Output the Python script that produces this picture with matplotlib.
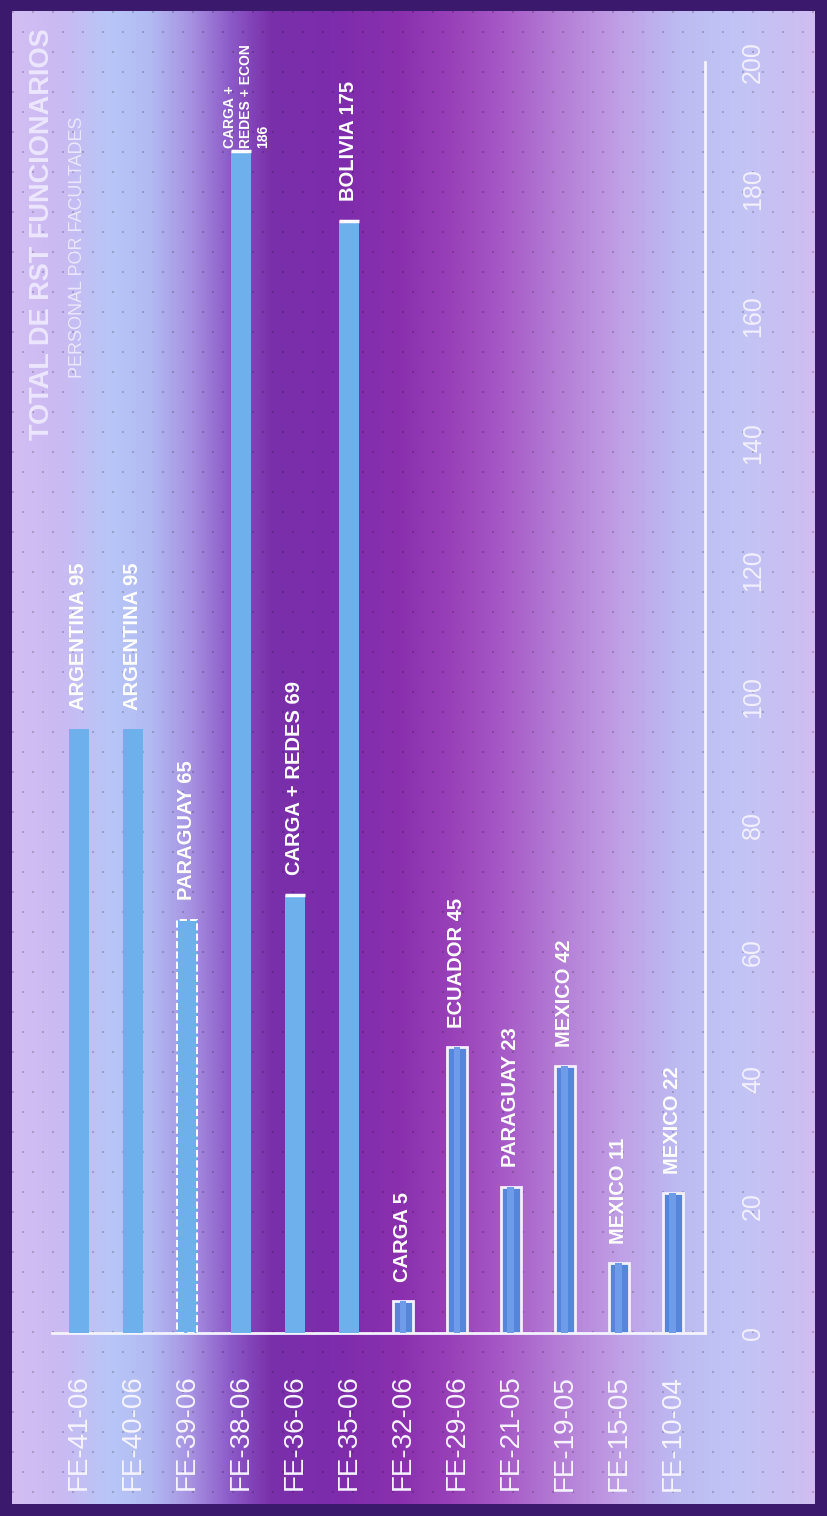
import numpy as np
import matplotlib
matplotlib.use("Agg")
import matplotlib.pyplot as plt
from matplotlib import font_manager

# ---------------- data ----------------
categories = ["FE-41-06", "FE-40-06", "FE-39-06", "FE-38-06", "FE-36-06", "FE-35-06",
              "FE-32-06", "FE-29-06", "FE-21-05", "FE-19-05", "FE-15-05", "FE-10-04"]
values = [95, 95, 65, 186, 69, 175, 5, 45, 23, 42, 11, 22]
bar_labels = ["ARGENTINA 95", "ARGENTINA 95", "PARAGUAY 65", "CARGA +\nREDES + ECON\n186",
              "CARGA + REDES 69", "BOLIVIA 175", "CARGA 5", "ECUADOR 45",
              "PARAGUAY 23", "MEXICO 42", "MEXICO 11", "MEXICO 22"]
value_ticks = [0, 20, 40, 60, 80, 100, 120, 140, 160, 180, 200]
title_text = "TOTAL DE RST FUNCIONARIOS"
subtitle_text = "PERSONAL POR FACULTADES"

# ---------------- fonts ----------------
names = {f.name for f in font_manager.fontManager.ttflist}
sans = "Liberation Sans" if "Liberation Sans" in names else "DejaVu Sans"

W, H = 827, 1516
fig = plt.figure(figsize=(W / 100, H / 100), dpi=100)
fig.patch.set_facecolor("#3b1a6e")

# ---------------- background gradient ----------------
bx0, bx1, by0, by1 = 12, 815, 11, 1504
bg = fig.add_axes([bx0 / W, 1 - by1 / H, (bx1 - bx0) / W, (by1 - by0) / H])
bg.set_axis_off()
stops_x = [12, 60, 110, 150, 190, 230, 270, 330, 400, 450, 500, 560, 620, 680, 740, 800, 815]
stops_c = ["#d2bef2", "#cabaf2", "#b8c6f7", "#b2baf2", "#a792e2", "#8c5ac8", "#7a30aa",
           "#7c2cac", "#8a30ae", "#9840b8", "#a658c6", "#b47ed6", "#c0a0e6", "#bcbcf2",
           "#c2c4f6", "#ccbef0", "#d2bcf0"]
rgb = np.array([matplotlib.colors.to_rgb(c) for c in stops_c])
xs = np.arange(bx0, bx1)
cols = np.stack([np.interp(xs, stops_x, rgb[:, k]) for k in range(3)], axis=1)
img = np.repeat(cols[None, :, :], by1 - by0, axis=0)
# subtle halftone dots
yy, xx = np.mgrid[0:by1 - by0, 0:bx1 - bx0]
dots = ((yy % 20) < 2) & (((xx + (yy // 20 % 2) * 10) % 20) < 2)
img[dots] = img[dots] * 0.82
bg.imshow(img, aspect="auto", extent=[0, 1, 0, 1], interpolation="bilinear")
bg.set_xlim(0, 1)
bg.set_ylim(0, 1)

# ---------------- main axes ----------------
ax_left, ax_right = 52, 705
ax_top, ax_bottom = 62, 1333
ax = fig.add_axes([ax_left / W, 1 - ax_bottom / H, (ax_right - ax_left) / W,
                   (ax_bottom - ax_top) / H])
ax.patch.set_alpha(0)
x = np.arange(len(categories))
ax.set_xlim(-0.5, len(categories) - 0.4)
ax.set_ylim(0, 200)

top_color = "#6db0ec"
bot_color = "#5686dc"
for i, v in enumerate(values):
    if i < 6:
        ls = "--" if i == 2 else "-"
        ec = "white" if i == 2 else "none"
        ax.bar(x[i], v, width=0.37, color=top_color, edgecolor=ec, linewidth=1.4,
               linestyle=ls, zorder=3)
        if i in (3, 4, 5):
            ax.hlines(v, x[i] - 0.185, x[i] + 0.185, color="white", lw=2.5, zorder=4)
    else:
        ax.bar(x[i], v, width=0.37, color=bot_color, edgecolor="#f4f0ff", linewidth=2.0,
               zorder=3)
        ax.bar(x[i], v, width=0.12, color="#6e9ce8", edgecolor="none", zorder=3.5)

for i, (v, lab) in enumerate(zip(values, bar_labels)):
    if "\n" in lab:
        ax.annotate(lab, (x[i], v), xytext=(4, 2), textcoords="offset points",
                    rotation=90, ha="center", va="bottom", multialignment="left",
                    color="white", fontsize=10, fontweight="bold", family=[sans, "DejaVu Sans"],
                    linespacing=1.2, zorder=5)
    else:
        ax.annotate(lab, (x[i], v), xytext=(0, 14), textcoords="offset points",
                    rotation=90, ha="center", va="bottom", color="white",
                    fontsize=14.5, fontweight="bold", family=[sans, "DejaVu Sans"],
                    zorder=5)

# spines
for s in ["top", "left"]:
    ax.spines[s].set_visible(False)
ax.spines["right"].set_color("#f4f4ff")
ax.spines["right"].set_linewidth(2)
ax.spines["bottom"].set_color("#f4f4ff")
ax.spines["bottom"].set_linewidth(2)

ax.yaxis.tick_right()
ax.set_yticks(value_ticks)
ax.set_yticklabels([str(t) for t in value_ticks], rotation=90, va="center", ha="left",
                   color="#f2f0ff", fontsize=18, family=[sans, "DejaVu Sans"])
ax.tick_params(axis="y", length=0, pad=26)
ax.set_xticks(x)
ax.set_xticklabels(categories, rotation=90, ha="center", va="top", color="#f6f4ff",
                   fontsize=20, family=[sans, "DejaVu Sans"])
ax.tick_params(axis="x", length=0, pad=30)

# ---------------- title ----------------
fig.text(42 / W, 1 - 440 / H, title_text, rotation=90, ha="center", va="bottom",
         color="#ece6ff", fontsize=19.5, fontweight="bold", family=[sans, "DejaVu Sans"])
fig.text(78 / W, 1 - 378 / H, subtitle_text, rotation=90, ha="center", va="bottom",
         color="#ece6ff", fontsize=13, family=[sans, "DejaVu Sans"])

fig.savefig("out.png", dpi=100, facecolor=fig.get_facecolor())
